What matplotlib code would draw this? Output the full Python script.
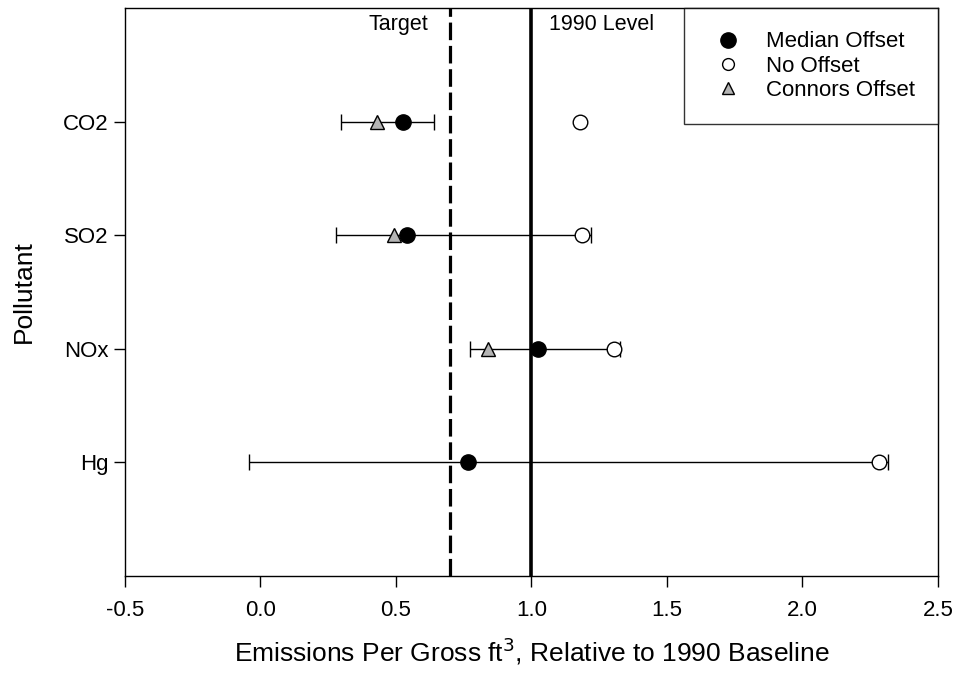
import matplotlib
matplotlib.use("Agg")
import matplotlib.pyplot as plt
from matplotlib.lines import Line2D

plt.rcParams['font.family'] = ['Liberation Sans', 'DejaVu Sans']

pollutants = ["Hg", "NOx", "SO2", "CO2"]
positions = [1, 2, 3, 4]
median_offset = [0.766, 1.025, 0.542, 0.527]
no_offset = [2.282, 1.305, 1.185, 1.179]
connors_offset = [None, 0.841, 0.494, 0.429]
err_low = [-0.042, 0.773, 0.277, 0.298]
err_high = [2.315, 1.327, 1.220, 0.640]
target_level = 0.7
baseline_level = 1.0
x_ticks = [-0.5, 0.0, 0.5, 1.0, 1.5, 2.0, 2.5]

fig = plt.figure(figsize=(9.59, 6.77), dpi=100)
ax = fig.add_axes([0.1303, 0.1492, 0.8477, 0.8388])

ax.axvline(target_level, color='black', lw=2.3, ls=(0, (5.5, 1.8)), zorder=1)
ax.axvline(baseline_level, color='black', lw=2.6, zorder=1)

lower = [m - l for m, l in zip(median_offset, err_low)]
upper = [h - m for m, h in zip(median_offset, err_high)]
ax.errorbar(median_offset, positions, xerr=[lower, upper], fmt='none',
            ecolor='black', elinewidth=1.0, capsize=6, capthick=1.0, zorder=2)

ax.plot(no_offset, positions, 'o', ms=10.5, mfc='white', mec='black', mew=1.0,
        ls='none', zorder=3, label='No Offset')
cx = [c for c in connors_offset if c is not None]
cy = [p for c, p in zip(connors_offset, positions) if c is not None]
ax.plot(cx, cy, '^', ms=10, mfc='#b4b4b4', mec='black', mew=1.0, ls='none',
        zorder=4, label='Connors Offset')
ax.plot(median_offset, positions, 'o', ms=11, mfc='black', mec='black',
        ls='none', zorder=5, label='Median Offset')

ax.annotate('Target', xy=(0.619, 4.86), ha='right', va='center', fontsize=15.5)
ax.annotate('1990 Level', xy=(1.063, 4.86), ha='left', va='center', fontsize=15.5)

ax.set_xlim(-0.5, 2.5)
ax.set_ylim(0, 5)
ax.set_xticks(x_ticks)
ax.set_xticklabels([f"{v:.1f}" for v in x_ticks])
ax.set_yticks(positions)
ax.set_yticklabels(pollutants)
ax.tick_params(axis='both', direction='out', length=8, width=1.0,
               labelsize=16, top=False, right=False)
ax.tick_params(axis='x', pad=9)
ax.tick_params(axis='y', pad=4)
for s in ax.spines.values():
    s.set_linewidth(1.0)

ax.set_xlabel(r'Emissions Per Gross ft$^3$, Relative to 1990 Baseline',
              fontsize=19, labelpad=11)
ax.set_ylabel('Pollutant', fontsize=19, labelpad=19)

handles = [
    Line2D([], [], marker='o', ls='none', ms=11, mfc='black', mec='black'),
    Line2D([], [], marker='o', ls='none', ms=8.5, mfc='white', mec='black'),
    Line2D([], [], marker='^', ls='none', ms=9, mfc='#b4b4b4', mec='black'),
]
leg = ax.legend(handles, ['Median Offset', 'No Offset', 'Connors Offset'],
                loc='upper right', borderaxespad=0, fontsize=16,
                frameon=True, fancybox=False, edgecolor='black',
                handletextpad=0.8, borderpad=1.05, labelspacing=0.15,
                handlelength=1.8)
leg.get_frame().set_linewidth(1.0)

fig.savefig('out.png', dpi=100)
